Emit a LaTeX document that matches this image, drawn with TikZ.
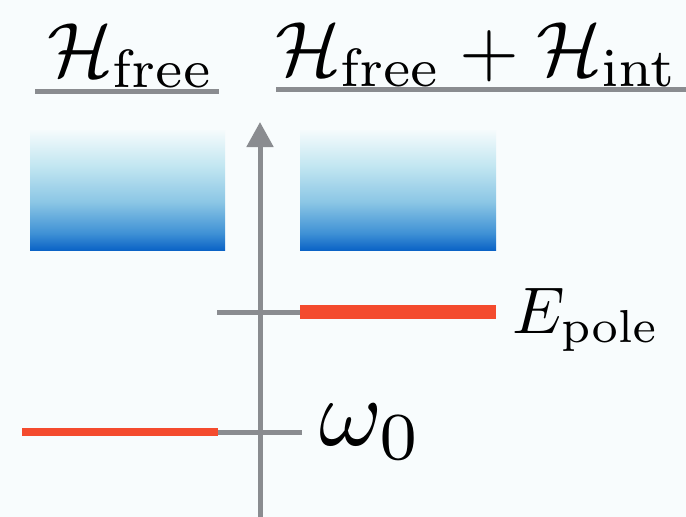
\documentclass[tikz,border=0pt]{standalone}
\usetikzlibrary{arrows.meta}
\definecolor{bgc}{HTML}{F8FCFD}
\definecolor{axc}{HTML}{8A8C90}
\definecolor{lvl}{HTML}{F44B2E}
\pgfdeclareverticalshading{band}{100bp}{color(0bp)=(rgb,255:red,11;green,99;blue,198); color(25bp)=(rgb,255:red,11;green,99;blue,198); color(32bp)=(rgb,255:red,63;green,145;blue,213); color(45bp)=(rgb,255:red,139;green,198;blue,229); color(60bp)=(rgb,255:red,194;green,230;blue,241); color(75bp)=(rgb,255:red,245;green,251;blue,252); color(100bp)=(rgb,255:red,245;green,251;blue,252)}

\begin{document}
\begin{tikzpicture}[x=1pt, y=-1pt, inner sep=0pt]
\useasboundingbox (0,0) rectangle (686,517);
\fill[bgc] (0,0) rectangle (686,517);
% headers
\node[anchor=base, scale=7.7] (hfree) at (131,76) {$\mathcal{H}_{\mathrm{free}}$};
\node[anchor=base, scale=7.7] (hint) at (477,75) {$\mathcal{H}_{\mathrm{free}}+\mathcal{H}_{\mathrm{int}}$};
\draw[axc, line width=5pt] (35,91) -- (219,91);
\draw[axc, line width=5pt] (276,89) -- (686,89);
% continua
\shade[shading=band] (30,130) rectangle (225,250);
\shade[shading=band] (300,130) rectangle (496,250);
% energy axis
\coordinate (ax0) at (260,517);
\coordinate (ax1) at (260,122);
\coordinate (pole) at (260,312);
\coordinate (w0) at (260,432);
\draw[axc, line width=5pt, -{Triangle[width=26pt, length=25pt]}] (ax0) -- (ax1);
\draw[axc, line width=5pt] ([xshift=-43pt]pole) -- ([xshift=42pt]pole);
\draw[axc, line width=5pt] ([xshift=-43pt]w0) -- ([xshift=42pt]w0);
% levels
\draw[lvl, line width=14pt] ([xshift=40pt]pole) -- ([xshift=236pt]pole);
\draw[lvl, line width=8pt] ([xshift=-238pt]w0) -- ([xshift=-42pt]w0);
\node[anchor=base west, scale=6.6] (epole) at (511,333) {$E_{\mathrm{pole}}$};
\node[anchor=base west, scale=9.6] (omega) at (318,445) {$\omega_0$};
\end{tikzpicture}
\end{document}
